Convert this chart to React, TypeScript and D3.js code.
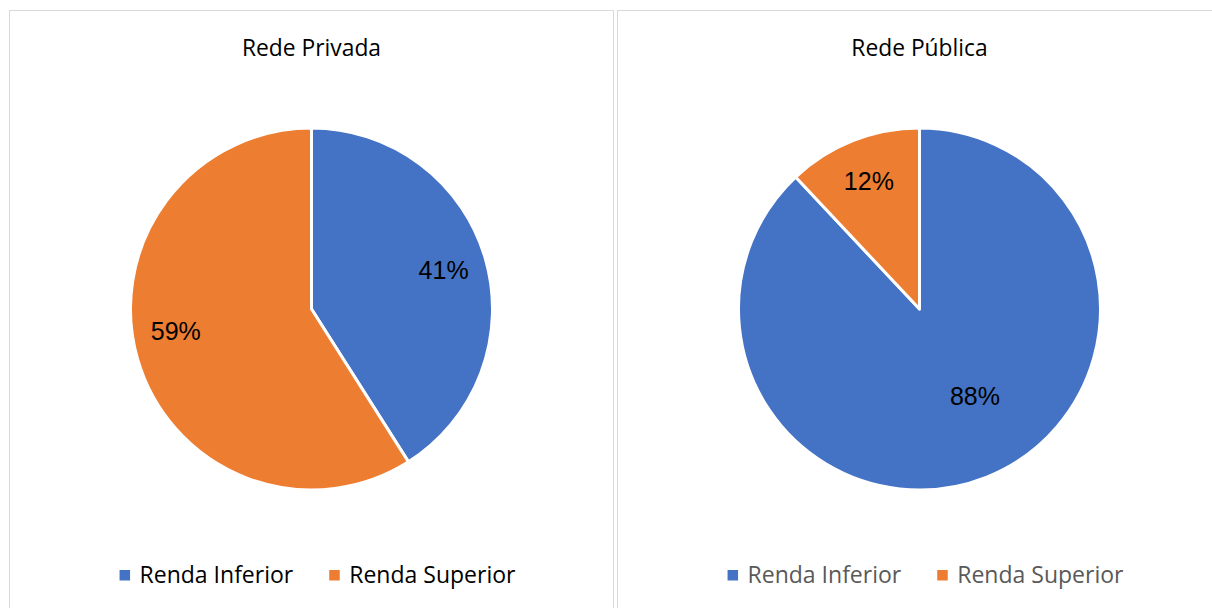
import React, { useEffect, useRef } from 'react';
import * as d3 from 'd3';

// chart data
const categories = ['Renda Inferior', 'Renda Superior'];
const colors = ['#4472C4', '#ED7D31'];
const panelTitles = ['Rede Privada', 'Rede Pública'];
const privadaValues = [41, 59];
const publicaValues = [88, 12];

const W = 1212;
const H = 608;

export default function App() {
    const svgRef = useRef<SVGSVGElement | null>(null);

    useEffect(() => {
        const svg = d3.select(svgRef.current);
        svg.selectAll('*').remove();

        const panels = [
            { title: panelTitles[0], values: privadaValues, legendColor: '#000000' },
            { title: panelTitles[1], values: publicaValues, legendColor: '#595959' }
        ];

        const panelW = 604;
        const R = 181;
        const pie = d3.pie<number>().sort(null).value(d => d);
        const arc = d3.arc<d3.PieArcDatum<number>>().innerRadius(0).outerRadius(R);

        panels.forEach((p, i) => {
            const x0 = 9.5 + i * 608;
            const cx = x0 + panelW / 2;
            const g = svg.append('g');

            // panel border
            g.append('rect')
                .attr('x', x0).attr('y', 10.5)
                .attr('width', panelW).attr('height', H)
                .attr('fill', '#fff')
                .attr('stroke', '#D9D9D9')
                .attr('stroke-width', 1);

            g.append('text')
                .attr('x', cx).attr('y', 56)
                .attr('text-anchor', 'middle')
                .attr('font-family', '"Open Sans", sans-serif')
                .attr('font-size', 22.8)
                .attr('fill', '#000')
                .text(p.title);

            const pg = g.append('g').attr('transform', `translate(${cx},309)`);
            const total = d3.sum(p.values);
            const slices = pie(p.values);

            pg.selectAll('path')
                .data(slices)
                .enter().append('path')
                .attr('d', arc)
                .attr('fill', (_d, j) => colors[j])
                .attr('stroke', '#fff')
                .attr('stroke-width', 3)
                .attr('stroke-linejoin', 'round');

            // data labels (best-fit-ish: big slices pulled in and nudged toward the top)
            pg.selectAll('text')
                .data(slices)
                .enter().append('text')
                .attr('transform', d => {
                    const frac = d.data / total;
                    const r = frac > 0.75 ? R * 0.57 : R * 0.76;
                    const shift = frac > 0.75 ? -0.19 : frac > 0.5 ? 0.12 : 0;   // radians
                    const a = (d.startAngle + d.endAngle) / 2 + shift;
                    return `translate(${r * Math.sin(a)},${-r * Math.cos(a)})`;
                })
                .attr('dy', '0.35em')
                .attr('text-anchor', 'middle')
                .attr('font-family', '"Liberation Sans", Arial, sans-serif')
                .attr('font-size', 25)
                .attr('fill', '#000')
                .text(d => `${Math.round(d.data / total * 100)}%`);

            // legend, centered under the pie
            const lg = g.append('g');
            let x = 0;
            categories.forEach((c, j) => {
                lg.append('rect')
                    .attr('x', x).attr('y', 570)
                    .attr('width', 10.5).attr('height', 10.5)
                    .attr('fill', colors[j]);
                const t = lg.append('text')
                    .attr('x', x + 20).attr('y', 583)
                    .attr('font-family', '"Open Sans", sans-serif')
                    .attr('font-size', 23)
                    .attr('fill', p.legendColor)
                    .text(c);
                const tw = (t.node() as SVGTextElement).getComputedTextLength();
                x += 20 + tw + (j < categories.length - 1 ? 36 : 0);
            });
            lg.attr('transform', `translate(${cx + 6 - x / 2},0)`);
        });
    }, []);

    return (
        <svg ref={svgRef} width={W} height={H}
            style={{ position: 'absolute', left: 0, top: 0, background: '#fff' }} />
    );
}
